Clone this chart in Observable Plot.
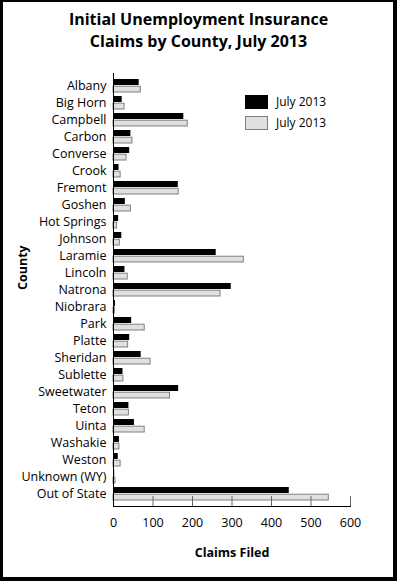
<!DOCTYPE html>
<html>
<head>
<meta charset="utf-8">
<script src="https://cdn.jsdelivr.net/npm/d3@7"></script>
<script src="https://cdn.jsdelivr.net/npm/@observablehq/plot@0.6"></script>
<style>
  html, body { margin: 0; padding: 0; background: #fff; }
  #wrap { position: relative; width: 397px; height: 581px; overflow: hidden; background: #fff; font-family: 'Open Sans', sans-serif; }
  #wrap svg { position: absolute; left: 0; top: 0; }
  #title { position: absolute; left: 0; width: 397px; top: 8px; text-align: center; font-weight: bold; font-size: 16px; line-height: 22px; color: #000; }
  .leg { position: absolute; left: 245px; width: 23px; height: 14px; box-sizing: border-box; }
  .legt { position: absolute; left: 276px; font-size: 12px; line-height: 16px; color: #000; }
  #border { position: absolute; inset: 0; box-sizing: border-box; border-style: solid; border-color: #000; border-width: 2px 4px 4px 3px; pointer-events: none; }
</style>
</head>
<body>
<div id="wrap">
  <div id="title">Initial Unemployment Insurance<br>Claims by County, July 2013</div>
  <div class="leg" style="top:95px; background:#000;"></div>
  <div class="legt" style="top:94px;">July 2013</div>
  <div class="leg" style="top:116px; background:#e0e0e0; border:1px solid #808080;"></div>
  <div class="legt" style="top:115px;">July 2013</div>
  <div id="border"></div>
</div>
<script>
const counties = ["Albany","Big Horn","Campbell","Carbon","Converse","Crook","Fremont","Goshen","Hot Springs","Johnson","Laramie","Lincoln","Natrona","Niobrara","Park","Platte","Sheridan","Sublette","Sweetwater","Teton","Uinta","Washakie","Weston","Unknown (WY)","Out of State"];
const seriesBlack = [65, 22, 178, 44, 41, 14, 164, 30, 13, 21, 260, 29, 298, 5, 46, 41, 70, 24, 165, 39, 53, 15, 12, 3, 445];
const seriesGrey  = [69, 28, 188, 48, 33, 18, 165, 44, 9, 16, 330, 36, 271, 4, 79, 37, 94, 25, 143, 39, 79, 15, 18, 5, 545];
const xTicks = [0, 100, 200, 300, 400, 500, 600];
const xLabel = "Claims Filed";
const yLabel = "County";

const rows = counties.map((c, i) => ({county: c, black: seriesBlack[i], grey: seriesGrey[i]}));

const chart = Plot.plot({
  width: 397,
  height: 581,
  marginLeft: 113,
  marginRight: 47,
  marginTop: 73,
  marginBottom: 75,
  style: {fontFamily: "'Open Sans', sans-serif", fontSize: "12px", color: "#000", background: "transparent", overflow: "visible"},
  x: {domain: [0, 600]},
  y: {domain: counties, paddingInner: 0.21, paddingOuter: 0.12},
  marks: [
    Plot.barX(rows, {y: "county", x: "black", fill: "#000", insetBottom: 7}),
    Plot.barX(rows, {y: "county", x: "grey", fill: "#e0e0e0", stroke: "#808080", strokeWidth: 1, insetTop: 7.2}),
    Plot.tickX(xTicks, {x: d => d, stroke: "#666", strokeWidth: 1, insetTop: 423}),
    Plot.frame({anchor: "left", stroke: "#000"}),
    Plot.frame({anchor: "bottom", stroke: "#000"}),
    Plot.axisX({ticks: xTicks, tickSize: 0, tickPadding: 12, label: null, fontSize: 12.5}),
    Plot.axisY({tickSize: 0, tickPadding: 7, label: null, fontSize: 12.5}),
    Plot.text([xLabel], {text: d => d, frameAnchor: "bottom", dy: 50, fontWeight: "bold", fontSize: 12.5}),
    Plot.text([yLabel], {text: d => d, frameAnchor: "left", dx: -91, rotate: -90, fontWeight: "bold", fontSize: 12.5})
  ]
});
document.getElementById("wrap").insertBefore(chart, document.getElementById("title"));
</script>
</body>
</html>
